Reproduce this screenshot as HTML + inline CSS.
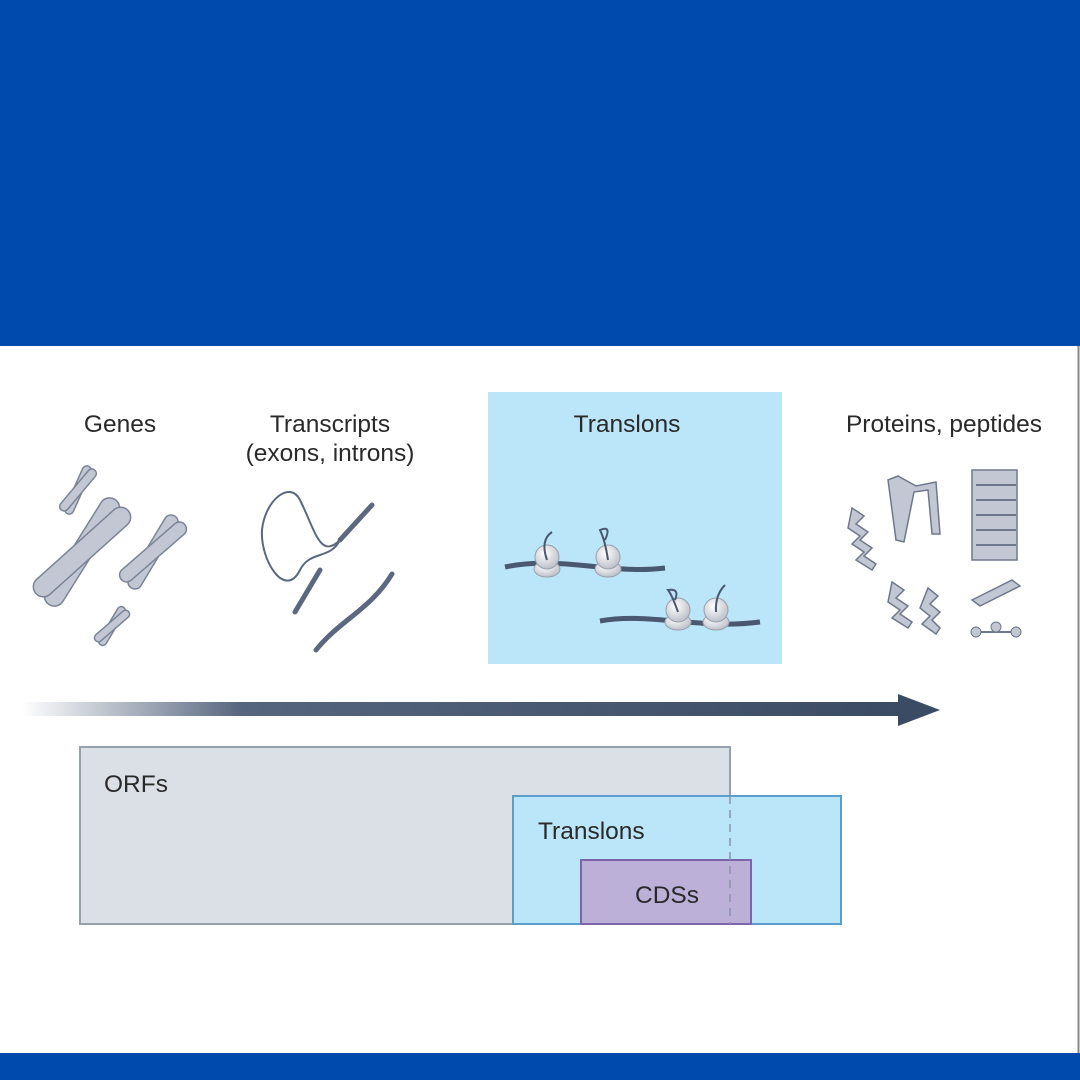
<!DOCTYPE html>
<html><head><meta charset="utf-8"><style>
html,body{margin:0;padding:0;width:1080px;height:1080px;overflow:hidden;background:#fff}
svg{display:block}
text{font-family:"Liberation Sans",sans-serif;fill:#2a2a2a;font-size:24.5px}
</style></head><body>
<svg width="1080" height="1080" viewBox="0 0 1080 1080">
<defs>
<linearGradient id="g" x1="0" x2="1"><stop offset="0" stop-color="#fff"/><stop offset="0.25" stop-color="#56657e"/><stop offset="1" stop-color="#3c4b64"/></linearGradient>
<radialGradient id="rb" cx="0.4" cy="0.35" r="0.7"><stop offset="0" stop-color="#fff"/><stop offset="1" stop-color="#b8bcc6"/></radialGradient>
</defs>
<rect x="0" y="0" width="1080" height="346" fill="#004aad"/>
<rect x="0" y="1053" width="1080" height="27" fill="#004aad"/>
<line x1="1078.5" y1="346" x2="1078.5" y2="1053" stroke="#888" stroke-width="2"/>
<rect x="488" y="392" width="294" height="272" fill="#bbe5f8"/>
<text x="120" y="432" text-anchor="middle">Genes</text>
<text x="330" y="432" text-anchor="middle">Transcripts</text>
<text x="330" y="461" text-anchor="middle">(exons, introns)</text>
<text x="627" y="432" text-anchor="middle">Translons</text>
<text x="944" y="432" text-anchor="middle">Proteins, peptides</text>
<g fill="#c2c7d3" stroke="#7b8496" stroke-width="1.5">
<g transform="translate(78,490) rotate(32)"><rect x="-4.5" y="-26" width="9" height="52" rx="4.5" transform="rotate(-8)"/><rect x="-4.5" y="-26" width="9" height="52" rx="4.5" transform="rotate(8)"/></g>
<g transform="translate(82,552) rotate(40)"><rect x="-10" y="-62" width="20" height="124" rx="10" transform="rotate(-8)"/><rect x="-10" y="-62" width="20" height="124" rx="10" transform="rotate(8)"/></g>
<g transform="translate(153,552) rotate(40)"><rect x="-7" y="-42" width="14" height="84" rx="7" transform="rotate(-9)"/><rect x="-7" y="-42" width="14" height="84" rx="7" transform="rotate(9)"/></g>
<g transform="translate(112,626) rotate(40)"><rect x="-4" y="-22" width="8" height="44" rx="4" transform="rotate(-9)"/><rect x="-4" y="-22" width="8" height="44" rx="4" transform="rotate(9)"/></g>
</g>
<g fill="none" stroke="#5c6880" stroke-linecap="round">
<path d="M340 540 C330 560 310 550 300 570 C 285 600 260 560 262 530 C 265 500 290 480 300 500 C 315 530 320 560 340 540" stroke-width="2"/>
<path d="M340 540 L372 505" stroke-width="5"/>
<path d="M320 570 L295 612" stroke-width="5"/>
<path d="M392 574 C370 610 340 620 316 650" stroke-width="5"/>
</g>
<g stroke="#4a5770" stroke-width="5" fill="none"><path d="M505 567 C560 555 610 575 665 568"/><path d="M600 621 C650 612 700 630 760 622"/></g>
<g fill="url(#rb)" stroke="#9aa0ab">
<ellipse cx="547" cy="569" rx="13" ry="8"/><circle cx="547" cy="557" r="12"/>
<ellipse cx="608" cy="569" rx="13" ry="8"/><circle cx="608" cy="557" r="12"/>
<ellipse cx="678" cy="622" rx="13" ry="8"/><circle cx="678" cy="610" r="12"/>
<ellipse cx="716" cy="622" rx="13" ry="8"/><circle cx="716" cy="610" r="12"/>
</g>
<g stroke="#4a5770" stroke-width="2" fill="none"><path d="M547 560 Q540 540 552 532"/><path d="M608 560 Q605 540 600 530 Q612 525 605 540"/><path d="M678 612 Q672 595 668 590 Q680 588 675 600"/><path d="M716 612 Q715 595 725 585"/></g>
<g fill="#c2c7d3" stroke="#6f788b" stroke-width="1.5">
<path d="M888 480 l10-4 l18 10 l20-4 l4 52 l-8 0 l-4-44 l-14 2 l-10 50 l-8-2 z"/>
<path d="M972 470 h45 v90 h-45z"/>
<path d="M972 600 l40-20 l8 6 l-40 20 z"/>
<path d="M852 508 l12 8 l-8 8 l12 8 l-8 8 l12 8 l-8 8 l12 8 l-4 6 l-16-10 l8-8 l-12-8 l8-8 l-12-8 z"/>
<path d="M892 582 l12 8 l-8 8 l12 8 l-8 8 l12 8 l-4 6 l-16-10 l8-8 l-12-8 z"/>
<path d="M928 588 l10 8 l-8 8 l10 8 l-8 8 l8 8 l-4 6 l-14-10 l8-8 l-10-8 z"/>
</g>
<g stroke="#6f788b" fill="none" stroke-width="2"><path d="M976 485 h40 M976 500 h40 M976 515 h40 M976 530 h40 M976 545 h40"/><path d="M972 632 h40"/></g>
<g fill="#c2c7d3" stroke="#6f788b"><circle cx="976" cy="632" r="5"/><circle cx="996" cy="627" r="5"/><circle cx="1016" cy="632" r="5"/></g>
<rect x="22" y="702" width="880" height="14" fill="url(#g)"/>
<path d="M898 694 L940 710 L898 726 Z" fill="#3c4b64"/>
<rect x="80" y="747" width="650" height="177" fill="#dbe0e7" stroke="#96a0ae" stroke-width="2"/>
<rect x="513" y="796" width="328" height="128" fill="#bbe5f8" stroke="#5b9ecb" stroke-width="2"/>
<rect x="581" y="860" width="170" height="64" fill="#bcb0d8" stroke="#7a66a8" stroke-width="2"/>
<line x1="730" y1="796" x2="730" y2="924" stroke="#8a94a4" stroke-width="1.5" stroke-dasharray="8,6"/>
<text x="104" y="792">ORFs</text>
<text x="538" y="839">Translons</text>
<text x="635" y="903">CDSs</text>
</svg>
</body></html>
